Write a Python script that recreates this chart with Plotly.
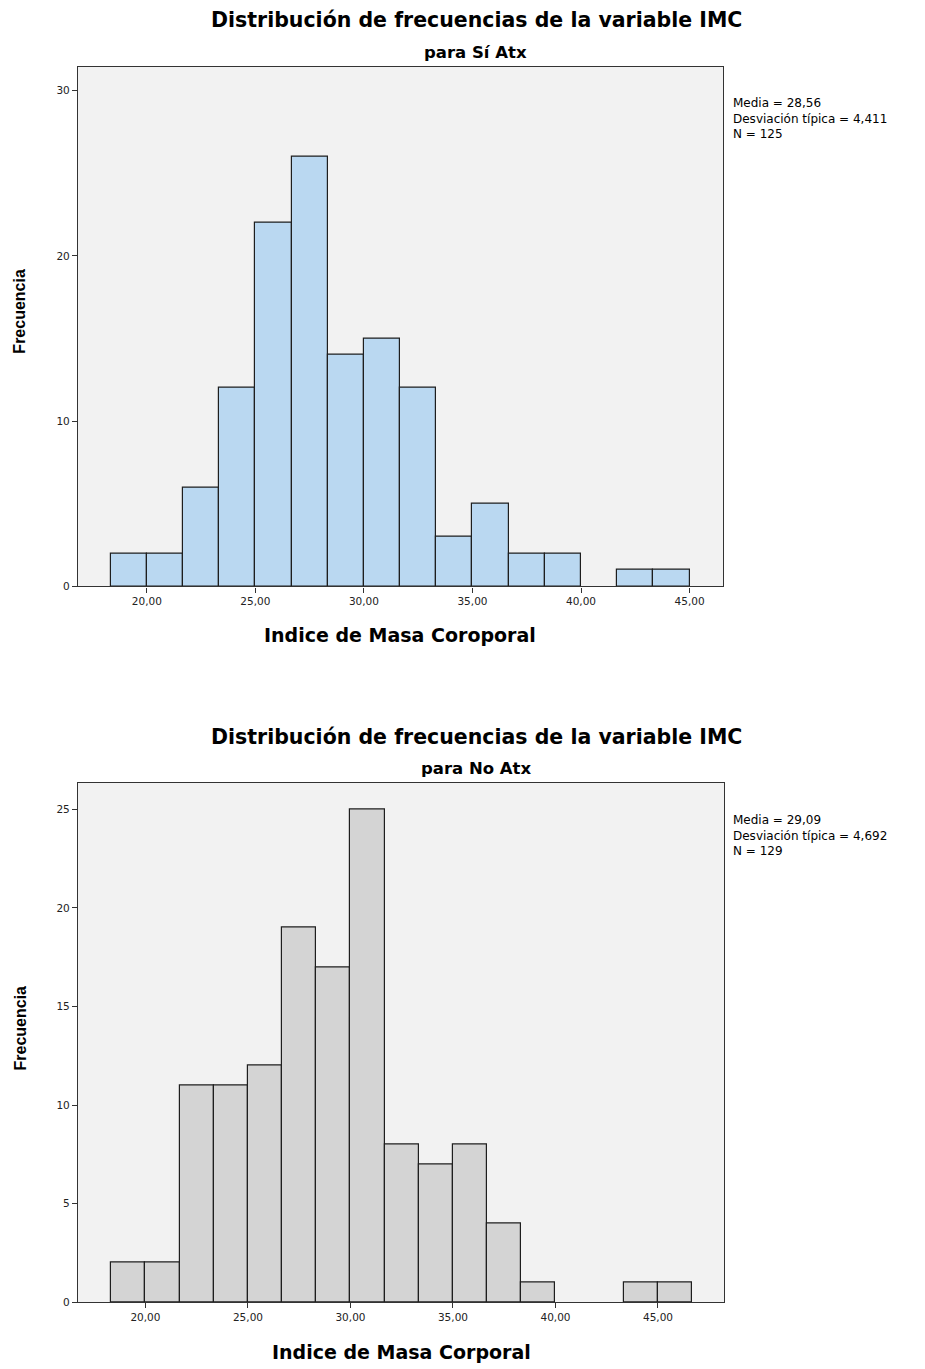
import plotly.graph_objects as go

# Histogram bins (IMC), shared by both groups
bin_start = 18.3333
bin_width = 5 / 3

# Frequencies per bin, group "Sí Atx"
counts_si = [2, 2, 6, 12, 22, 26, 14, 15, 12, 3, 5, 2, 2, 0, 1, 1]
# Frequencies per bin, group "No Atx"
counts_no = [2, 2, 11, 11, 12, 19, 17, 25, 8, 7, 8, 4, 1, 0, 0, 1, 1]

stats_si = ["Media = 28,56", "Desviación típica = 4,411", "N = 125"]
stats_no = ["Media = 29,09", "Desviación típica = 4,692", "N = 129"]

x_ticks = [20, 25, 30, 35, 40, 45]
y_ticks_si = [0, 10, 20, 30]
y_ticks_no = [0, 5, 10, 15, 20, 25]

W, H = 925, 1369
WIDE = "DejaVu Sans, Verdana, sans-serif"
ARIAL = "Liberation Sans, Arial, sans-serif"


def centers(counts):
    return [bin_start + bin_width * (i + 0.5) for i in range(len(counts))]


def px(x):
    return x / W


def py(y):
    return 1 - y / H


def nonzero(counts):
    # empty bins are left undrawn
    return [c if c > 0 else None for c in counts]


fig = go.Figure()

fig.add_trace(go.Bar(
    x=centers(counts_si), y=nonzero(counts_si), width=bin_width,
    marker=dict(color="#bad8f1", line=dict(color="#1e1e1e", width=1.2)),
    xaxis="x", yaxis="y", showlegend=False, hoverinfo="x+y",
))
fig.add_trace(go.Bar(
    x=centers(counts_no), y=nonzero(counts_no), width=bin_width,
    marker=dict(color="#d4d4d4", line=dict(color="#1e1e1e", width=1.2)),
    xaxis="x2", yaxis="y2", showlegend=False, hoverinfo="x+y",
))

axis_common = dict(
    showgrid=False, zeroline=False, showline=True, linecolor="#333333",
    linewidth=1.2, mirror=True, ticks="outside", ticklen=5, tickcolor="#333333",
    tickfont=dict(family=WIDE, size=10.5, color="#222222"),
)

fig.update_layout(
    width=W, height=H,
    margin=dict(l=0, r=0, t=0, b=0),
    paper_bgcolor="white",
    plot_bgcolor="#f2f2f2",
    separators=",.",
    bargap=0,
    xaxis=dict(domain=[px(78), px(723)], range=[16.83, 46.54],
               tickvals=x_ticks, tickformat=".2f", anchor="y", **axis_common),
    yaxis=dict(domain=[py(589), py(67)], range=[0, 31.45],
               tickvals=y_ticks_si, anchor="x", **axis_common),
    xaxis2=dict(domain=[px(78), px(724)], range=[16.71, 48.22],
                tickvals=x_ticks, tickformat=".2f", anchor="y2", **axis_common),
    yaxis2=dict(domain=[py(1308), py(786)], range=[0, 26.36],
                tickvals=y_ticks_no, anchor="x2", **axis_common),
)


def text(x, y, s, size, bold=False, angle=0, xanchor="center", family=WIDE,
         yanchor="middle", align="center"):
    fig.add_annotation(
        x=px(x), y=py(y), xref="paper", yref="paper",
        text=f"<b>{s}</b>" if bold else s,
        showarrow=False, xanchor=xanchor, yanchor=yanchor, textangle=angle,
        align=align, font=dict(family=family, size=size, color="#000000"),
    )


# Panel "Sí Atx"
text(477, 20, "Distribución de frecuencias de la variable IMC", 20.5, bold=True)
text(475, 53, "para Sí Atx", 16.5, bold=True)
text(400, 638, "Indice de Masa Coroporal", 19, bold=True)
text(20, 313, "Frecuencia", 16, bold=True, angle=-90, family=ARIAL)
text(731, 94, "<br>".join(stats_si), 12, xanchor="left", yanchor="top", align="left")

# Panel "No Atx"
text(477, 740, "Distribución de frecuencias de la variable IMC", 20.5, bold=True)
text(477, 772, "para No Atx", 16.5, bold=True)
text(401, 1358, "Indice de Masa Corporal", 19, bold=True)
text(20, 1033, "Frecuencia", 16, bold=True, angle=-90, family=ARIAL)
text(731, 815, "<br>".join(stats_no), 12, xanchor="left", yanchor="top", align="left")

fig.write_html("out.html")
